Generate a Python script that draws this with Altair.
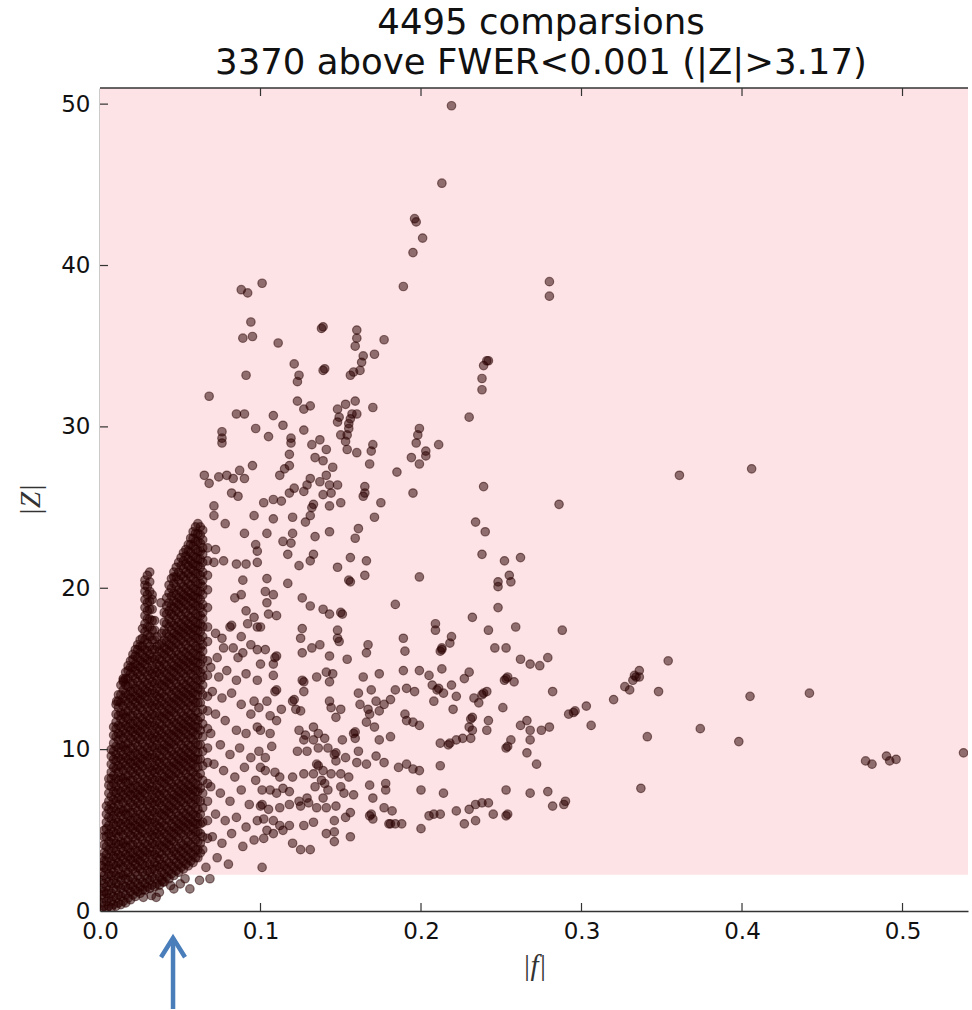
import altair as alt
import pandas as pd

# ---------------- data ----------------
TITLE_LINES = ["4495 comparsions", "3370 above FWER<0.001 (|Z|>3.17)"]
x_ticks = [0.0, 0.1, 0.2, 0.3, 0.4, 0.5]
y_ticks = [0, 10, 20, 30, 40, 50]
x_max = 0.5408
y_max = 51
threshold = 2.25       # lower edge of the shaded band
arrow_f = 0.0455       # |f| marked by the arrow below the axis

# individually visible comparisons (|f|, |Z|), upper part
upper_pts = [
    (0.101, 38.9), (0.088, 38.5), (0.092, 38.3), (0.094, 36.5), (0.089, 35.5), (0.095, 35.6), (0.111, 35.2),
    (0.138, 36.1), (0.139, 36.2), (0.139, 33.5), (0.140, 33.6), (0.121, 33.9), (0.124, 33.2), (0.123, 32.8), (0.091, 33.2),
    (0.068, 31.9), (0.085, 30.8), (0.090, 30.8), (0.108, 30.7), (0.114, 30.1), (0.123, 31.6), (0.127, 31.1), (0.131, 31.3),
    (0.127, 29.8), (0.097, 29.9), (0.105, 29.4), (0.076, 29.7), (0.076, 29.3), (0.076, 29.0), (0.095, 27.6),
    (0.065, 27.0), (0.068, 26.5), (0.074, 26.9), (0.079, 27.0), (0.083, 26.8), (0.087, 27.3), (0.090, 26.8),
    (0.082, 25.9), (0.086, 25.7), (0.071, 25.1), (0.102, 25.3), (0.108, 25.5), (0.113, 25.4), (0.118, 25.9), (0.121, 26.2),
    (0.119, 29.3), (0.119, 29.0), (0.118, 28.3), (0.118, 27.6), (0.115, 27.4), (0.112, 27.0),
    (0.132, 28.9), (0.137, 29.2), (0.141, 28.6), (0.134, 28.1), (0.139, 27.9), (0.145, 27.5), (0.141, 27.0), (0.137, 26.6),
    (0.143, 26.4), (0.148, 26.4), (0.131, 26.8), (0.129, 26.4), (0.127, 26.0), (0.133, 25.2), (0.139, 25.8), (0.144, 25.9),
    (0.148, 31.1), (0.149, 30.6), (0.148, 30.3), (0.150, 29.5), (0.156, 33.2),
    (0.219, 49.9), (0.213, 45.1), (0.196, 42.9), (0.197, 42.7), (0.201, 41.7), (0.195, 40.8), (0.189, 38.7),
    (0.280, 39.0), (0.280, 38.1),
    (0.160, 36.0), (0.160, 35.5), (0.159, 35.0), (0.177, 35.4), (0.171, 34.5), (0.164, 34.4), (0.163, 34.0),
    (0.158, 33.4), (0.162, 33.5),
    (0.241, 34.1), (0.242, 34.1), (0.239, 33.8), (0.238, 33.0), (0.238, 32.3), (0.230, 30.6),
    (0.159, 31.6), (0.153, 31.4), (0.170, 31.2), (0.157, 30.8), (0.156, 30.5), (0.155, 30.2), (0.155, 29.9),
    (0.154, 29.5), (0.153, 29.1), (0.154, 28.6), (0.160, 30.8),
    (0.160, 28.4), (0.168, 27.7), (0.170, 28.9), (0.169, 28.5),
    (0.199, 29.9), (0.198, 29.5), (0.197, 29.0), (0.203, 28.5), (0.203, 28.2), (0.194, 28.1), (0.199, 27.7), (0.211, 28.9),
    (0.185, 27.2), (0.165, 26.3), (0.164, 25.7), (0.165, 25.9), (0.175, 25.3), (0.195, 25.9), (0.239, 26.3), (0.286, 25.2),
    (0.361, 27.0), (0.406, 27.4),
]

# middle band, |f| 0.1 - 0.3
mid_pts = [
    (0.132, 25.0), (0.131, 24.5), (0.143, 25.1), (0.150, 25.3), (0.171, 24.4),
    (0.108, 24.3), (0.120, 24.4), (0.128, 24.1), (0.120, 23.4), (0.114, 22.9), (0.117, 22.1), (0.119, 22.8), (0.104, 23.4),
    (0.134, 23.2), (0.143, 23.5), (0.161, 23.7), (0.159, 23.1), (0.133, 22.1), (0.131, 21.7), (0.124, 21.4), (0.148, 21.3),
    (0.156, 21.9), (0.166, 21.7), (0.165, 20.8), (0.155, 20.5), (0.156, 20.4),
    (0.234, 24.1), (0.240, 23.5), (0.238, 22.1), (0.252, 21.7), (0.262, 21.9), (0.248, 20.4), (0.248, 20.1),
    (0.255, 20.8), (0.256, 20.4), (0.248, 18.8),
    (0.199, 20.7), (0.184, 19.0), (0.232, 18.2),
    (0.104, 20.6), (0.117, 20.3), (0.103, 19.8), (0.108, 19.6), (0.104, 19.1), (0.110, 18.3), (0.105, 18.4),
    (0.126, 19.4), (0.131, 18.9), (0.139, 18.7), (0.143, 18.4), (0.150, 18.5), (0.151, 18.4),
    (0.126, 17.5), (0.125, 16.9), (0.126, 16.0), (0.132, 16.3), (0.137, 16.5), (0.143, 15.8), (0.148, 17.4),
    (0.149, 16.7), (0.154, 15.6), (0.148, 16.9),
    (0.100, 17.6), (0.103, 16.2), (0.109, 15.7), (0.110, 15.8), (0.108, 15.3), (0.100, 15.3), (0.108, 14.6),
    (0.167, 16.5), (0.166, 16.0), (0.189, 16.9), (0.190, 16.1),
    (0.209, 17.8), (0.209, 17.4), (0.219, 17.0), (0.218, 16.6), (0.212, 16.1), (0.213, 16.2), (0.213, 16.3),
    (0.242, 17.4), (0.259, 17.6), (0.246, 16.3), (0.253, 16.3), (0.262, 15.6), (0.268, 15.3), (0.274, 15.2),
    (0.279, 15.7), (0.288, 17.4),
    (0.189, 14.9), (0.199, 14.9), (0.205, 14.6), (0.213, 15.0), (0.230, 14.8), (0.227, 14.4),
    (0.252, 14.3), (0.258, 14.2), (0.254, 14.5), (0.253, 14.4), (0.282, 13.6), (0.295, 12.3), (0.296, 12.4), (0.292, 12.2),
    (0.126, 14.3), (0.127, 14.2), (0.127, 13.6), (0.135, 14.5), (0.141, 14.8), (0.145, 14.7), (0.143, 14.2),
    (0.164, 14.5), (0.174, 14.7), (0.161, 13.5), (0.169, 13.7), (0.184, 13.7), (0.191, 13.8), (0.196, 13.6),
    (0.207, 14.0), (0.210, 13.7), (0.211, 13.8), (0.214, 13.5), (0.219, 14.0), (0.222, 13.3), (0.208, 13.0), (0.220, 12.5),
    (0.233, 13.2), (0.238, 13.4), (0.239, 13.5), (0.241, 13.6), (0.236, 12.9), (0.251, 12.6),
    (0.109, 13.6), (0.110, 13.7), (0.104, 13.0), (0.120, 13.0), (0.121, 13.1), (0.122, 12.5), (0.125, 12.4),
    (0.113, 12.5), (0.106, 12.1), (0.110, 11.8),
    (0.143, 13.0), (0.144, 12.6), (0.150, 12.5), (0.147, 12.0), (0.162, 12.8), (0.167, 12.5), (0.172, 13.0),
    (0.177, 12.8), (0.181, 13.1),
    (0.168, 12.2), (0.166, 11.7), (0.171, 11.4), (0.174, 12.4),
    (0.190, 12.2), (0.191, 11.8), (0.195, 11.7), (0.199, 11.5),
    (0.231, 11.9), (0.232, 12.0), (0.230, 11.4), (0.232, 11.2), (0.242, 11.8), (0.241, 11.2),
    (0.262, 11.5), (0.266, 11.8), (0.268, 11.2), (0.275, 11.2), (0.280, 11.4),
    (0.253, 10.1), (0.254, 10.2), (0.256, 10.6), (0.268, 10.6), (0.266, 9.8), (0.272, 9.1),
    (0.100, 11.2), (0.106, 11.0), (0.107, 10.2), (0.103, 9.5),
    (0.124, 11.2), (0.128, 10.9), (0.133, 11.4), (0.136, 11.0), (0.140, 10.7), (0.127, 10.6), (0.133, 10.6),
    (0.123, 9.9), (0.129, 9.9), (0.136, 10.1), (0.142, 10.1), (0.146, 9.7), (0.147, 9.8), (0.151, 10.6),
    (0.158, 11.0), (0.159, 11.1), (0.159, 10.7), (0.161, 9.9), (0.147, 9.3), (0.153, 9.5), (0.160, 9.2), (0.166, 9.1),
    (0.174, 10.6), (0.181, 10.8), (0.172, 9.6), (0.177, 9.2),
    (0.212, 10.4), (0.217, 10.3), (0.218, 10.4), (0.222, 10.6), (0.226, 10.7), (0.231, 10.7),
    (0.186, 8.9), (0.191, 9.1), (0.195, 8.8), (0.199, 8.7), (0.212, 9.0),
    (0.200, 7.5), (0.214, 7.3), (0.208, 6.0), (0.212, 6.0), (0.205, 5.9), (0.222, 6.2), (0.230, 6.3), (0.234, 6.6),
    (0.238, 6.7), (0.242, 6.7),
    (0.227, 5.4), (0.234, 5.6), (0.245, 6.0), (0.253, 5.9), (0.254, 6.0), (0.253, 7.5), (0.268, 7.3), (0.279, 7.4),
    (0.282, 6.5), (0.289, 6.6), (0.290, 6.8),
    (0.200, 5.1),
    (0.100, 8.9), (0.103, 8.7), (0.109, 8.6), (0.112, 8.3), (0.120, 8.3), (0.127, 8.5), (0.133, 8.5), (0.135, 9.1),
    (0.136, 9.0), (0.139, 8.7), (0.144, 8.5), (0.150, 8.5), (0.155, 8.3), (0.140, 7.9), (0.138, 8.1),
    (0.101, 7.5), (0.106, 7.5), (0.110, 7.3), (0.114, 7.6), (0.118, 7.4), (0.124, 6.8), (0.129, 7.0), (0.134, 7.7),
    (0.139, 7.0), (0.142, 7.5),
    (0.150, 7.7), (0.152, 7.3), (0.158, 7.2), (0.168, 7.8), (0.170, 7.0), (0.178, 7.9), (0.178, 7.5), (0.177, 6.4),
    (0.182, 6.2),
    (0.168, 5.9), (0.169, 6.0), (0.170, 5.7), (0.180, 5.4), (0.181, 5.4), (0.184, 5.4), (0.188, 5.4),
    (0.100, 6.5), (0.101, 6.6), (0.105, 6.3), (0.112, 6.4), (0.118, 6.6), (0.125, 6.5), (0.130, 6.7), (0.135, 6.4),
    (0.141, 6.4), (0.147, 6.5),
    (0.153, 5.8), (0.146, 5.6), (0.156, 6.1),
    (0.102, 5.7), (0.108, 5.6), (0.112, 5.3), (0.118, 5.3), (0.127, 5.3), (0.133, 5.5),
    (0.104, 5.0), (0.108, 4.8), (0.114, 5.0), (0.120, 4.2), (0.125, 3.8), (0.131, 3.8), (0.141, 4.8), (0.146, 4.9),
    (0.146, 4.3), (0.156, 4.6),
    (0.102, 4.5), (0.101, 2.7),
]

# right-hand sparse comparisons, |f| > 0.3
right_pts = [
    (0.303, 12.7), (0.306, 11.5), (0.354, 15.5), (0.336, 14.9), (0.333, 14.6), (0.336, 14.5), (0.334, 14.5),
    (0.332, 14.3), (0.327, 13.9), (0.330, 13.7), (0.348, 13.6), (0.320, 13.1),
    (0.341, 10.8), (0.374, 11.3), (0.398, 10.5), (0.405, 13.3), (0.442, 13.5), (0.337, 7.6),
    (0.477, 9.3), (0.481, 9.1), (0.490, 9.6), (0.492, 9.3), (0.496, 9.4), (0.538, 9.8),
]

# comparisons just right of the dense cluster, |f| 0.065 - 0.1
near_pts = [
    (0.071, 24.5), (0.078, 24.0), (0.090, 23.4), (0.096, 24.5), (0.097, 22.7), (0.098, 22.3),
    (0.072, 22.4), (0.077, 21.7), (0.071, 21.6),
    (0.085, 21.5), (0.091, 21.5), (0.098, 21.6), (0.089, 20.5), (0.084, 19.4), (0.088, 19.6),
    (0.091, 18.6), (0.096, 18.2), (0.092, 17.8), (0.098, 17.6), (0.081, 17.6), (0.082, 17.7), (0.088, 17.0),
    (0.072, 17.2), (0.076, 16.9), (0.077, 16.3), (0.073, 15.7), (0.083, 16.3), (0.086, 15.7), (0.089, 16.0),
    (0.094, 16.5), (0.098, 16.2),
    (0.096, 13.0), (0.038, 19.1), (0.0145, 14.3), (0.0104, 13.0),
    (0.069, 15.1), (0.074, 14.5), (0.079, 14.9), (0.085, 14.3), (0.091, 14.7), (0.098, 14.3),
    (0.070, 13.6), (0.076, 13.2), (0.082, 13.5), (0.088, 12.8), (0.094, 12.2), (0.099, 12.6),
    (0.072, 12.2), (0.078, 11.8), (0.085, 11.2), (0.091, 11.0), (0.098, 11.4),
    (0.069, 11.0), (0.075, 10.3), (0.081, 9.7), (0.087, 10.1), (0.094, 9.5), (0.099, 9.9),
    (0.071, 9.1), (0.077, 8.7), (0.084, 8.3), (0.090, 8.9), (0.097, 8.1),
    (0.069, 7.7), (0.075, 7.3), (0.081, 6.8), (0.088, 7.5), (0.093, 6.6),
    (0.072, 6.0), (0.078, 5.6), (0.085, 5.8), (0.091, 5.2), (0.098, 5.6),
    (0.070, 4.6), (0.076, 4.2), (0.082, 4.8), (0.089, 4.0), (0.096, 4.4),
    (0.073, 3.3), (0.080, 2.9), (0.066, 2.7),
]

# below the shaded band
low_pts = [
    (0.032, 0.96), (0.027, 0.85), (0.035, 0.85), (0.037, 1.16), (0.044, 1.58), (0.046, 1.37),
    (0.050, 1.68), (0.056, 1.37), (0.062, 1.9), (0.0685, 2.0), (0.053, 2.0), (0.039, 1.8),
]

# dense cluster near the origin, estimated column by column (|f| of column, |Z| values)
dense_cols = [0.001, 0.004, 0.007, 0.010, 0.013, 0.016, 0.019, 0.022, 0.025, 0.028, 0.031, 0.034,
              0.037, 0.040, 0.043, 0.046, 0.049, 0.052, 0.055, 0.058, 0.061, 0.064, 0.067]
dense_z = [
    [0.1, 0.5, 1.0, 1.4, 1.9, 2.4, 2.8, 3.3],
    [0.1, 0.6, 1.1, 1.5, 2.0, 2.6, 3.1, 3.5, 4.0, 4.6, 5.1, 5.5, 6.0, 6.5],
    [0.2, 0.6, 1.1, 1.7, 2.2, 2.6, 3.1, 3.7, 4.2, 4.6, 5.1, 5.7, 6.2, 6.6, 7.1, 7.7, 8.2, 8.6, 9.1, 9.6, 10.0],
    [0.3, 0.8, 1.3, 1.7, 2.2, 2.8, 3.3, 3.7, 4.2, 4.8, 5.3, 5.7, 6.2, 6.8, 7.3, 7.7, 8.2, 8.8, 9.3, 9.7,
     10.2, 10.8, 11.3, 11.7, 12.2, 12.8],
    [0.4, 0.9, 1.4, 1.9, 2.3, 2.9, 3.4, 3.9, 4.3, 4.9, 5.4, 5.9, 6.3, 6.9, 7.4, 7.9, 8.3, 8.9, 9.4, 9.9,
     10.3, 10.9, 11.4, 11.9, 12.3, 12.9, 13.4, 14.0],
    [0.5, 1.0, 1.5, 2.0, 2.4, 3.0, 3.5, 4.0, 4.4, 5.0, 5.5, 6.0, 6.4, 7.0, 7.5, 8.0, 8.4, 9.0, 9.5, 10.0,
     10.4, 11.0, 11.5, 12.0, 12.4, 13.0, 13.5, 14.0, 14.4, 14.8],
    [0.7, 1.2, 1.6, 2.1, 2.7, 3.2, 3.6, 4.1, 4.7, 5.2, 5.6, 6.1, 6.7, 7.2, 7.6, 8.1, 8.7, 9.2, 9.6, 10.1,
     10.7, 11.2, 11.6, 12.1, 12.7, 13.2, 13.6, 14.1, 14.7, 15.1, 15.5],
    [0.9, 1.3, 1.8, 2.4, 2.9, 3.3, 3.8, 4.4, 4.9, 5.3, 5.8, 6.4, 6.9, 7.3, 7.8, 8.4, 8.9, 9.3, 9.8, 10.4,
     10.9, 11.3, 11.8, 12.4, 12.9, 13.3, 13.8, 14.4, 14.9, 15.3, 15.8, 16.2],
    [1.1, 1.5, 2.0, 2.6, 3.1, 3.5, 4.0, 4.6, 5.1, 5.5, 6.0, 6.6, 7.1, 7.5, 8.0, 8.6, 9.1, 9.5, 10.0, 10.6,
     11.1, 11.5, 12.0, 12.6, 13.1, 13.5, 14.0, 14.6, 15.1, 15.5, 16.0, 16.4, 16.8],
    [1.3, 1.7, 2.2, 2.8, 3.3, 3.7, 4.2, 4.8, 5.3, 5.7, 6.2, 6.8, 7.3, 7.7, 8.2, 8.8, 9.3, 9.7, 10.2, 10.8,
     11.3, 11.7, 12.2, 12.8, 13.3, 13.7, 14.2, 14.8, 15.3, 15.7, 16.2, 16.8, 17.3, 17.8, 18.3, 18.8, 19.3,
     19.8, 20.2, 20.5],
    [1.4, 1.9, 2.4, 2.9, 3.5, 3.9, 4.4, 4.9, 5.5, 5.9, 6.4, 6.9, 7.5, 7.9, 8.4, 8.9, 9.5, 9.9, 10.4, 10.9,
     11.5, 11.9, 12.4, 12.9, 13.5, 13.9, 14.4, 14.9, 15.5, 15.9, 16.4, 17.0, 17.6, 18.1, 18.7, 19.2, 19.8,
     20.4, 21.0],
    [1.5, 2.0, 2.6, 3.0, 3.5, 4.1, 4.6, 5.0, 5.5, 6.1, 6.6, 7.0, 7.5, 8.1, 8.6, 9.0, 9.5, 10.1, 10.6, 11.0,
     11.5, 12.1, 12.6, 13.0, 13.5, 14.1, 14.6, 15.0, 15.6, 16.2, 16.8, 17.4, 18.0],
    [1.6, 2.1, 2.7, 3.2, 3.6, 4.1, 4.7, 5.2, 5.6, 6.1, 6.7, 7.2, 7.6, 8.1, 8.7, 9.2, 9.6, 10.1, 10.7, 11.2,
     11.6, 12.1, 12.7, 13.2, 13.6, 14.1, 14.7, 15.2, 15.6, 16.1, 16.5],
    [1.8, 2.3, 2.8, 3.3, 3.9, 4.3, 4.8, 5.3, 5.9, 6.3, 6.8, 7.3, 7.9, 8.3, 8.8, 9.3, 9.9, 10.3, 10.8, 11.3,
     11.9, 12.3, 12.8, 13.3, 13.9, 14.3, 14.8, 15.3, 15.9, 16.3, 16.8, 17.4, 17.9, 18.5],
    [2.0, 2.5, 3.0, 3.6, 4.1, 4.5, 5.0, 5.6, 6.1, 6.5, 7.0, 7.6, 8.1, 8.5, 9.0, 9.6, 10.1, 10.5, 11.0, 11.6,
     12.1, 12.5, 13.0, 13.6, 14.1, 14.5, 15.0, 15.6, 16.1, 16.5, 17.0, 17.6, 18.1, 18.6, 19.1, 19.7, 20.2],
    [2.2, 2.7, 3.2, 3.7, 4.3, 4.8, 5.2, 5.7, 6.3, 6.8, 7.2, 7.7, 8.3, 8.8, 9.2, 9.7, 10.3, 10.8, 11.2, 11.7,
     12.3, 12.8, 13.2, 13.7, 14.3, 14.8, 15.2, 15.7, 16.3, 16.8, 17.2, 17.7, 18.3, 18.8, 19.2, 19.7, 20.3,
     20.7, 21.0],
    [2.4, 2.9, 3.4, 3.9, 4.5, 5.0, 5.4, 5.9, 6.5, 7.0, 7.4, 7.9, 8.5, 9.0, 9.4, 9.9, 10.5, 11.0, 11.4, 11.9,
     12.5, 13.0, 13.4, 13.9, 14.5, 15.0, 15.4, 15.9, 16.5, 17.0, 17.4, 17.9, 18.5, 19.0, 19.4, 19.9, 20.5,
     21.0, 21.6],
    [2.6, 3.1, 3.6, 4.1, 4.7, 5.2, 5.6, 6.1, 6.7, 7.2, 7.6, 8.1, 8.7, 9.2, 9.6, 10.1, 10.7, 11.2, 11.6, 12.1,
     12.7, 13.2, 13.6, 14.1, 14.7, 15.2, 15.6, 16.1, 16.7, 17.2, 17.6, 18.1, 18.7, 19.2, 19.6, 20.1, 20.7,
     21.2, 21.7, 22.2],
    [2.8, 3.3, 3.8, 4.3, 4.9, 5.4, 5.8, 6.3, 6.9, 7.4, 7.8, 8.3, 8.9, 9.4, 9.8, 10.3, 10.9, 11.4, 11.8, 12.3,
     12.9, 13.4, 13.8, 14.3, 14.9, 15.4, 15.8, 16.3, 16.9, 17.4, 17.8, 18.3, 18.9, 19.4, 19.8, 20.3, 20.9,
     21.4, 21.8, 22.3, 22.7],
    [3.0, 3.5, 4.0, 4.6, 5.1, 5.5, 6.0, 6.6, 7.1, 7.5, 8.0, 8.6, 9.1, 9.5, 10.0, 10.6, 11.1, 11.5, 12.0, 12.6,
     13.1, 13.5, 14.0, 14.6, 15.1, 15.5, 16.0, 16.6, 17.1, 17.5, 18.0, 18.6, 19.1, 19.5, 20.0, 20.6, 21.1,
     21.5, 22.0, 22.6, 23.1, 23.5],
    [3.3, 3.8, 4.3, 4.9, 5.4, 5.8, 6.3, 6.9, 7.4, 7.8, 8.3, 8.9, 9.4, 9.8, 10.3, 10.9, 11.4, 11.8, 12.3, 12.9,
     13.4, 13.8, 14.3, 14.9, 15.4, 15.8, 16.3, 16.9, 17.4, 17.8, 18.3, 18.9, 19.4, 19.8, 20.3, 20.9, 21.4,
     21.8, 22.3, 22.9, 23.4, 24.0],
    [3.8, 4.6, 5.5, 6.4, 7.3, 8.1, 9.0, 9.9, 10.8, 11.6, 12.5, 13.4, 14.0, 14.5, 15.0, 15.6, 16.1, 16.5,
     17.0, 17.6, 18.1, 18.5, 19.0, 19.6, 20.1, 20.5, 21.0, 21.6, 22.1, 22.5, 23.0, 23.6],
    [4.5, 5.6, 6.8, 7.9, 9.2, 10.1, 11.3, 12.4, 13.3, 14.6, 15.5, 16.7, 17.6, 18.8, 19.9, 20.8, 21.7, 22.5],
]

# second, interleaved set of columns of the same dense cluster
dense_cols_b = [0.0025, 0.0055, 0.0085, 0.0115, 0.0145, 0.0175, 0.0205, 0.0235, 0.0265, 0.0295, 0.0325,
                0.0355, 0.0385, 0.0415, 0.0445, 0.0475, 0.0505, 0.0535, 0.0565, 0.0595, 0.0625]
dense_z_b = [
    [0.3, 0.8, 1.2, 1.7, 2.2, 2.7, 3.1, 3.6, 4.1, 4.6, 5.0],
    [0.3, 0.8, 1.3, 1.8, 2.3, 2.8, 3.3, 3.8, 4.3, 4.8, 5.3, 5.8, 6.3, 6.8, 7.3, 7.8, 8.2],
    [0.4, 0.9, 1.4, 1.9, 2.4, 2.9, 3.4, 3.9, 4.4, 4.9, 5.4, 5.9, 6.4, 6.9, 7.4, 7.9, 8.4, 8.9, 9.4, 9.9,
     10.4, 10.9, 11.4],
    [0.5, 1.0, 1.6, 2.1, 2.6, 3.0, 3.5, 4.1, 4.6, 5.0, 5.5, 6.1, 6.6, 7.0, 7.5, 8.1, 8.6, 9.0, 9.5, 10.1,
     10.6, 11.0, 11.5, 12.1, 12.6, 13.0, 13.4],
    [0.6, 1.1, 1.6, 2.2, 2.7, 3.2, 3.7, 4.2, 4.7, 5.2, 5.7, 6.2, 6.7, 7.2, 7.7, 8.2, 8.7, 9.2, 9.7, 10.2,
     10.7, 11.2, 11.7, 12.2, 12.7, 13.2, 13.7, 14.2, 14.4],
    [0.8, 1.4, 1.9, 2.4, 2.9, 3.4, 3.9, 4.4, 4.9, 5.4, 5.9, 6.4, 6.9, 7.4, 7.9, 8.4, 8.9, 9.4, 9.9, 10.4,
     10.9, 11.4, 11.9, 12.4, 12.9, 13.4, 13.9, 14.4, 14.9, 15.2],
    [1.0, 1.5, 2.0, 2.6, 3.1, 3.6, 4.1, 4.6, 5.1, 5.6, 6.1, 6.6, 7.1, 7.6, 8.1, 8.6, 9.1, 9.6, 10.1, 10.6,
     11.1, 11.6, 12.1, 12.6, 13.1, 13.6, 14.1, 14.6, 15.1, 15.6, 15.9],
    [1.2, 1.7, 2.2, 2.7, 3.2, 3.7, 4.2, 4.7, 5.2, 5.7, 6.2, 6.7, 7.2, 7.7, 8.2, 8.7, 9.2, 9.7, 10.2, 10.7,
     11.2, 11.7, 12.2, 12.7, 13.2, 13.7, 14.2, 14.7, 15.2, 15.7, 16.2, 16.5],
    [1.3, 1.8, 2.4, 2.9, 3.4, 3.9, 4.4, 4.9, 5.4, 5.9, 6.4, 6.9, 7.4, 7.9, 8.4, 8.9, 9.4, 9.9, 10.4, 10.9,
     11.4, 11.9, 12.4, 12.9, 13.4, 13.9, 14.4, 14.9, 15.4, 15.9, 16.4, 16.9, 17.5],
    [1.5, 2.0, 2.5, 3.0, 3.6, 4.1, 4.6, 5.1, 5.6, 6.1, 6.6, 7.1, 7.6, 8.1, 8.6, 9.1, 9.6, 10.1, 10.6, 11.1,
     11.6, 12.1, 12.6, 13.1, 13.6, 14.1, 14.6, 15.1, 15.6, 16.1, 16.6, 17.1, 17.6, 18.1, 18.6, 19.1, 19.6,
     20.1, 20.8],
    [1.6, 2.1, 2.6, 3.2, 3.7, 4.2, 4.7, 5.2, 5.7, 6.2, 6.7, 7.2, 7.7, 8.2, 8.7, 9.2, 9.7, 10.2, 10.7, 11.2,
     11.7, 12.2, 12.7, 13.2, 13.7, 14.2, 14.7, 15.2, 15.7, 16.2, 16.8, 17.4, 18.0, 18.7, 19.3, 19.6],
    [1.7, 2.3, 2.8, 3.3, 3.8, 4.3, 4.8, 5.3, 5.8, 6.3, 6.8, 7.3, 7.8, 8.3, 8.8, 9.3, 9.8, 10.3, 10.8, 11.3,
     11.8, 12.3, 12.8, 13.3, 13.8, 14.3, 14.8, 15.3, 15.8, 16.4, 17.0],
    [1.9, 2.4, 2.9, 3.5, 4.0, 4.5, 5.0, 5.5, 6.0, 6.5, 7.0, 7.5, 8.0, 8.5, 9.0, 9.5, 10.0, 10.5, 11.0, 11.5,
     12.0, 12.5, 13.0, 13.5, 14.0, 14.5, 15.0, 15.5, 16.0, 16.6, 17.2],
    [2.1, 2.6, 3.1, 3.7, 4.2, 4.7, 5.2, 5.7, 6.2, 6.7, 7.2, 7.7, 8.2, 8.7, 9.2, 9.7, 10.2, 10.7, 11.2, 11.7,
     12.2, 12.7, 13.2, 13.7, 14.2, 14.7, 15.2, 15.7, 16.2, 16.7, 17.2, 17.8, 18.4, 18.9, 19.4],
    [2.3, 2.8, 3.4, 3.9, 4.4, 4.9, 5.4, 5.9, 6.4, 6.9, 7.4, 7.9, 8.4, 8.9, 9.4, 9.9, 10.4, 10.9, 11.4, 11.9,
     12.4, 12.9, 13.4, 13.9, 14.4, 14.9, 15.4, 15.9, 16.4, 16.9, 17.4, 17.9, 18.4, 18.9, 19.5, 20.0, 20.6],
    [2.5, 3.0, 3.5, 4.0, 4.6, 5.1, 5.6, 6.1, 6.6, 7.1, 7.6, 8.1, 8.6, 9.1, 9.6, 10.1, 10.6, 11.1, 11.6, 12.1,
     12.6, 13.1, 13.6, 14.1, 14.6, 15.1, 15.6, 16.1, 16.6, 17.1, 17.6, 18.1, 18.6, 19.1, 19.6, 20.1, 20.7,
     21.3],
    [2.7, 3.2, 3.7, 4.2, 4.8, 5.3, 5.8, 6.3, 6.8, 7.3, 7.8, 8.3, 8.8, 9.3, 9.8, 10.3, 10.8, 11.3, 11.8, 12.3,
     12.8, 13.3, 13.8, 14.3, 14.8, 15.3, 15.8, 16.3, 16.8, 17.3, 17.8, 18.3, 18.8, 19.3, 19.8, 20.3, 20.8,
     21.4, 21.9],
    [2.9, 3.4, 3.9, 4.4, 5.0, 5.5, 6.0, 6.5, 7.0, 7.5, 8.0, 8.5, 9.0, 9.5, 10.0, 10.5, 11.0, 11.5, 12.0, 12.5,
     13.0, 13.5, 14.0, 14.5, 15.0, 15.5, 16.0, 16.5, 17.0, 17.5, 18.0, 18.5, 19.0, 19.5, 20.0, 20.5, 21.0,
     21.5, 22.0, 22.4],
    [3.1, 3.6, 4.1, 4.7, 5.2, 5.7, 6.2, 6.7, 7.2, 7.7, 8.2, 8.7, 9.2, 9.7, 10.2, 10.7, 11.2, 11.7, 12.2, 12.7,
     13.2, 13.7, 14.2, 14.7, 15.2, 15.7, 16.2, 16.7, 17.2, 17.7, 18.2, 18.7, 19.2, 19.7, 20.2, 20.7, 21.2,
     21.7, 22.2, 22.7, 23.1],
    [3.3, 3.8, 4.4, 4.9, 5.4, 5.9, 6.4, 6.9, 7.4, 7.9, 8.4, 8.9, 9.4, 9.9, 10.4, 10.9, 11.4, 11.9, 12.4, 12.9,
     13.4, 13.9, 14.4, 14.9, 15.4, 15.9, 16.4, 16.9, 17.4, 17.9, 18.4, 18.9, 19.4, 19.9, 20.4, 20.9, 21.4,
     21.9, 22.4, 22.9, 23.4, 23.8],
    [3.6, 4.2, 4.8, 5.4, 6.0, 6.8, 7.6, 8.5, 9.4, 10.3, 11.2, 12.0, 12.9, 13.7, 14.3, 14.8, 15.3, 15.8, 16.3,
     16.8, 17.3, 17.8, 18.3, 18.8, 19.3, 19.8, 20.3, 20.8, 21.3, 21.8, 22.3, 22.8, 23.3, 23.8],
]

# ---------------- build tables ----------------
rows = []
for group in (upper_pts, mid_pts, right_pts, near_pts, low_pts):
    for f, z in group:
        rows.append({"f": f, "z": z})
for cols, zlists in ((dense_cols, dense_z), (dense_cols_b, dense_z_b)):
    for xc, zs in zip(cols, zlists):
        for z in zs:
            rows.append({"f": xc, "z": z})
points_df = pd.DataFrame(rows)

W, H = 868, 823
FRAME = "#333333"
PT = "#2b0000"

x_scale = alt.Scale(domain=[0, x_max], nice=False, zero=False)
y_scale = alt.Scale(domain=[0, y_max], nice=False, zero=False)

# one shared axis definition, used identically by every layer so the axes merge
x_axis = alt.Axis(values=x_ticks, format=".1f", ticks=False, grid=False, labelFlush=False,
                  domainColor=FRAME, domainWidth=1.5, labelFont="DejaVu Sans", labelFontSize=23,
                  labelColor="#111", labelPadding=9, title="|f|", titleFont="Liberation Serif",
                  titleFontStyle="italic", titleFontWeight="normal", titleFontSize=29,
                  titleColor="#333", titlePadding=8)
y_axis = alt.Axis(values=y_ticks, format="d", ticks=False, grid=False, labelFlush=False,
                  domainColor=FRAME, domainWidth=1.5, labelFont="DejaVu Sans", labelFontSize=23,
                  labelColor="#111", labelPadding=10, title="|Z|", titleFont="Liberation Serif",
                  titleFontStyle="italic", titleFontWeight="normal", titleFontSize=29,
                  titleColor="#333", titlePadding=15)


def X(field):
    return alt.X(field, scale=x_scale, axis=x_axis)


def Y(field):
    return alt.Y(field, scale=y_scale, axis=y_axis)


band_df = pd.DataFrame({"x0": [0.0], "x1": [x_max], "y0": [threshold], "y1": [y_max]})
band = alt.Chart(band_df).mark_rect(color="#fde3e5").encode(
    x=X("x0:Q"), x2="x1:Q", y=Y("y0:Q"), y2="y1:Q",
)

pts = alt.Chart(points_df).mark_circle(
    size=72, fill=PT, fillOpacity=0.52, stroke=PT, strokeOpacity=0.52, strokeWidth=1.2, clip=True
).encode(x=X("f:Q"), y=Y("z:Q"))

xt_df = pd.DataFrame({"t": x_ticks[1:]})
yt_df = pd.DataFrame({"t": y_ticks[1:]})
bottom_ticks = alt.Chart(xt_df).mark_rule(color=FRAME, strokeWidth=1.2).encode(
    x=X("t:Q"), y=alt.value(H), y2=alt.value(H - 8))
top_ticks = alt.Chart(xt_df).mark_rule(color=FRAME, strokeWidth=1.2).encode(
    x=X("t:Q"), y=alt.value(0), y2=alt.value(8))
left_ticks = alt.Chart(yt_df).mark_rule(color=FRAME, strokeWidth=1.2).encode(
    y=Y("t:Q"), x=alt.value(0), x2=alt.value(8))
top_line = alt.Chart(pd.DataFrame({"k": [0]})).mark_rule(color=FRAME, strokeWidth=1.5).encode(
    x=alt.value(0), x2=alt.value(W), y=alt.value(0))

arrow_df = pd.DataFrame({"f": [arrow_f]})
ARROW = "#4a7ebb"
shaft = alt.Chart(arrow_df).mark_rule(color=ARROW, strokeWidth=4.5).encode(
    x=X("f:Q"), y=alt.value(853), y2=alt.value(921))
head = alt.Chart(arrow_df).mark_point(
    shape="M-1,1.6L0,0L1,1.6", size=576, filled=False, color=ARROW, strokeWidth=4.5, opacity=1
).encode(x=X("f:Q"), y=alt.value(850))

chart = alt.layer(
    band, pts, bottom_ticks, top_ticks, left_ticks, top_line, shaft, head
).properties(
    width=W, height=H, background="white",
    title=alt.Title(TITLE_LINES, fontSize=35.5, font="DejaVu Sans", fontWeight="normal", color="#111",
                    lineHeight=40, offset=6, anchor="middle", dx=7),
    padding={"left": 16, "top": 5, "right": 0, "bottom": 0},
).configure_view(strokeWidth=0)

chart.save("out.html", embed_options={"renderer": "svg", "actions": False})
